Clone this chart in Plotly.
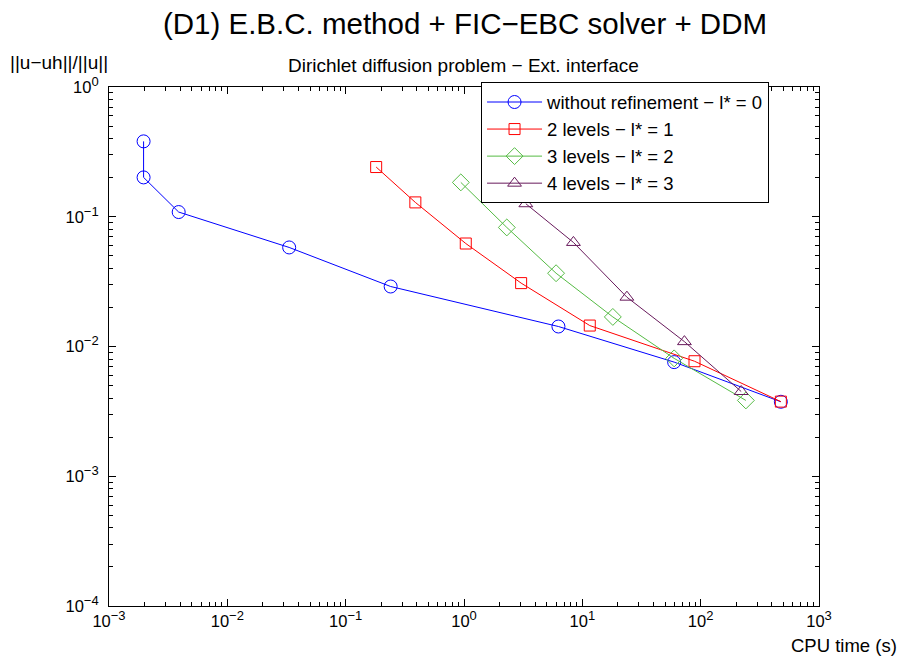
import plotly.graph_objects as go

# ---- data ----
cpu_l0 = [0.00196, 0.00196, 0.00388, 0.0333, 0.240, 6.28, 59.7, 476]
err_l0 = [0.381, 0.201, 0.1087, 0.058, 0.029, 0.01426, 0.00758, 0.00375]

cpu_l1 = [0.181, 0.388, 1.035, 3.04, 11.56, 88.7, 476]
err_l1 = [0.2416, 0.129, 0.0622, 0.0308, 0.0145, 0.0077, 0.00376]

cpu_l2 = [0.94, 2.30, 6.0, 18.1, 59.7, 241]
err_l2 = [0.184, 0.0827, 0.0367, 0.0169, 0.0081, 0.00384]

cpu_l3 = [3.33, 8.41, 23.8, 72.9, 220]
err_l3 = [0.126, 0.0634, 0.0240, 0.0109, 0.0045]

names = ["without refinement \u2212 l* = 0", "2 levels \u2212 l* = 1",
         "3 levels \u2212 l* = 2", "4 levels \u2212 l* = 3"]

x_exponents = ["\u22123", "\u22122", "\u22121", "0", "1", "2", "3"]
x_tickvals = [1e-3, 1e-2, 1e-1, 1, 10, 100, 1000]
y_exponents = ["\u22124", "\u22123", "\u22122", "\u22121", "0"]
y_tickvals = [1e-4, 1e-3, 1e-2, 1e-1, 1]


def pow_label(e):
    return "10<sup><span style='font-size:13px'>" + e + "</span></sup>"


x_ticktext = [pow_label(e) for e in x_exponents]
y_ticktext = [pow_label(e) for e in y_exponents]


# minor tick positions 2..9 in each decade (axis decoration, not data)
def minor_vals(lo, hi):
    out = []
    for e in range(lo, hi):
        for m in range(2, 10):
            out.append(m * 10.0 ** e)
    return out


series = [
    (cpu_l0, err_l0, "#0000ff", "circle-open", 13),
    (cpu_l1, err_l1, "#ff0000", "square-open", 11),
    (cpu_l2, err_l2, "#55bb44", "diamond-open", 13),
    (cpu_l3, err_l3, "#681a5c", "triangle-up-open", 12),
]

fig = go.Figure()
for (xs, ys, col, sym, sz), nm in zip(series, names):
    fig.add_trace(go.Scatter(
        x=xs, y=ys, mode="lines+markers", name=nm,
        line=dict(color=col, width=1),
        marker=dict(symbol=sym, size=sz, color=col, line=dict(width=1, color=col)),
    ))

font_family = "Liberation Sans, Arial, Helvetica, sans-serif"
axis_common = dict(
    type="log", showgrid=False, zeroline=False, showline=True, linecolor="black",
    linewidth=1, mirror="ticks", ticks="inside", ticklen=7, tickcolor="black",
    tickfont=dict(size=16.5, color="black", family=font_family), automargin=False,
)
fig.update_xaxes(range=[-3, 3], tickvals=x_tickvals, ticktext=x_ticktext,
                 minor=dict(ticks="inside", ticklen=4, tickcolor="black",
                            tickvals=minor_vals(-3, 3), showgrid=False),
                 **axis_common)
fig.update_yaxes(range=[-4, 0], tickvals=y_tickvals, ticktext=y_ticktext,
                 ticklabelstandoff=6,
                 minor=dict(ticks="inside", ticklen=4, tickcolor="black",
                            tickvals=minor_vals(-4, 0), showgrid=False),
                 **axis_common)

# page body has an 8px margin; figure sized/offset to compensate
W, H = 897, 653
fig.update_layout(
    width=W, height=H,
    margin=dict(l=101, r=86, t=79, b=55),
    plot_bgcolor="white", paper_bgcolor="white",
    font=dict(family=font_family, color="black"),
    title=dict(text="(D1) E.B.C. method + FIC\u2212EBC solver + DDM",
               x=457 / W, xanchor="center", y=1 - 16 / H, yanchor="middle",
               font=dict(size=29.5, color="black")),
    legend=dict(x=0.524, y=1.0087, xanchor="left", yanchor="top",
                bordercolor="black", borderwidth=1, bgcolor="white",
                font=dict(size=18.5, color="black"), tracegroupgap=0,
                itemwidth=55, entrywidth=269),
    showlegend=True,
    annotations=[
        dict(text="Dirichlet diffusion problem \u2212 Ext. interface", xref="paper", yref="paper",
             x=0.4986, y=(606 - 65) / 519, xanchor="center", yanchor="middle",
             showarrow=False, font=dict(size=19)),
        dict(text="||u\u2212uh||/||u||", xref="paper", yref="paper",
             x=(59 - 109) / 710, y=(606 - 62) / 519, xanchor="center", yanchor="middle",
             showarrow=False, font=dict(size=19)),
        dict(text="CPU time (s)", xref="paper", yref="paper",
             x=(844 - 109) / 710, y=(606 - 645) / 519, xanchor="center", yanchor="middle",
             showarrow=False, font=dict(size=18.5)),
    ],
)

fig.write_html("out.html")
